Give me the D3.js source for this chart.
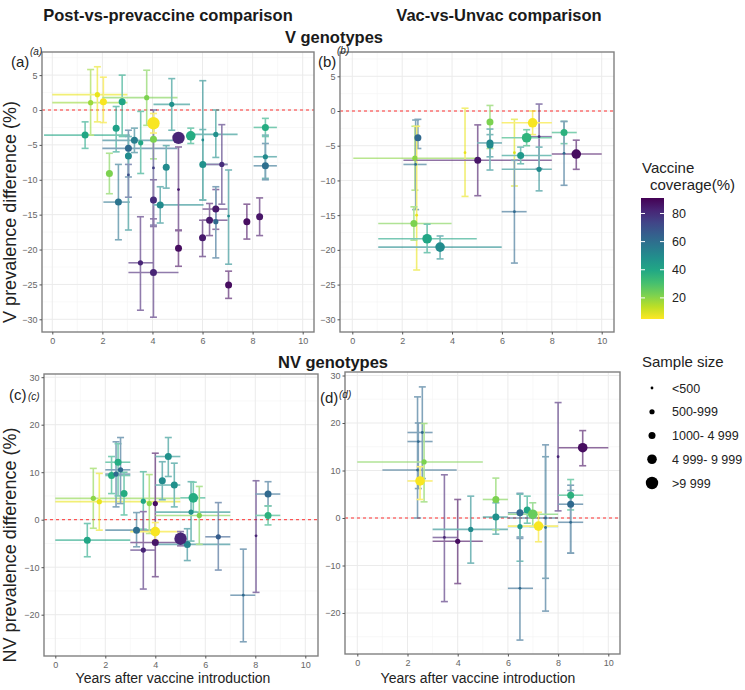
<!DOCTYPE html>
<html>
<head>
<meta charset="utf-8">
<script src="https://cdn.jsdelivr.net/npm/d3@7"></script>
<style>
  body { margin: 0; background: #fff; }
  svg { display: block; font-family: "Liberation Sans", Arial, sans-serif; }
</style>
</head>
<body>
<div id="container"></div>
<script>
// rows: [years, diff, diffLow, diffHigh, yearsLow, yearsHigh, coverage %, size class 0-4]
const postV = [
  [1.31, -3.6, -5.5, -1.7, -0.33, 3.1, 40, 2],
  [1.53, 1.05, -3.6, 5.8, 0.0, 3.0, 18, 1],
  [1.8, 2.2, -1.7, 6.2, 0.0, 3.0, 8, 1],
  [2.04, 1.2, -1.8, 4.7, null, null, 6, 2],
  [2.28, -9.1, -12.0, -6.2, null, null, 22, 2],
  [2.55, -2.6, -6.0, 0.5, null, null, 42, 2],
  [2.64, -13.2, -18.6, -7.8, 2.04, 3.1, 58, 2],
  [2.79, 1.2, -3.8, 5.0, null, null, 40, 2],
  [3.04, -5.5, -9.6, -2.9, 2.0, 5.0, 62, 2],
  [3.04, -6.6, -17.2, -3.8, null, null, 50, 2],
  [3.04, -9.3, -12.5, -7.8, null, null, 70, 0],
  [3.28, -4.35, -6.1, -2.6, 2.0, 5.0, 55, 2],
  [3.53, -4.7, -9.1, -0.2, null, null, 40, 1],
  [3.52, -21.9, -28.7, -15.3, 3.04, 4.04, 82, 1],
  [3.77, 1.77, -2.2, 5.7, 2.0, 5.0, 22, 1],
  [4.04, -4.2, -7.0, -1.5, null, null, 22, 2],
  [4.04, -8.3, -16.5, 0.0, null, null, 75, 0],
  [4.04, -12.9, -16.7, -10.0, null, null, 80, 2],
  [4.04, -23.3, -29.7, -15.6, 3.04, 5.04, 82, 2],
  [4.31, -13.6, -16.2, -11.0, 4.04, 6.04, 50, 2],
  [4.55, -8.2, -11.2, -5.1, null, null, 50, 2],
  [4.77, 0.81, -2.9, 4.5, 4.04, 5.5, 48, 1],
  [5.04, -11.4, -17.3, -5.3, null, null, 85, 0],
  [5.04, -19.8, -22.4, -17.2, null, null, 88, 2],
  [5.53, -3.7, -4.8, -2.6, null, null, 38, 3],
  [6.01, -4.3, -12.9, 4.2, null, null, 50, 0],
  [6.01, -7.8, -12.9, -2.8, 6.0, 7.0, 48, 2],
  [6.0, -18.3, -21.0, -15.8, null, null, 85, 2],
  [6.28, -15.8, -18.0, -13.4, 6.0, 7.0, 85, 2],
  [6.53, -3.5, -6.8, 0.0, 5.5, 7.4, 48, 1],
  [6.53, -14.2, -17.1, -11.4, 6.0, 7.0, 85, 2],
  [6.53, -16.0, -21.2, -11.0, null, null, 62, 1],
  [6.77, -7.8, -13.5, -2.1, 6.0, 7.0, 80, 1],
  [7.04, -15.2, -22.1, -8.6, null, null, 50, 0],
  [7.04, -25.1, -27.0, -23.1, null, null, 88, 2],
  [7.77, -16.0, -18.5, -13.5, null, null, 88, 2],
  [8.28, -15.3, -18.0, -12.6, null, null, 86, 2],
  [8.51, -2.5, -3.8, -1.2, 8.04, 8.97, 38, 2],
  [8.51, -6.7, -9.8, -3.6, 8.04, 8.97, 50, 1],
  [8.51, -8.0, -10.0, -4.8, 8.04, 8.97, 60, 2],
  [4.04, -1.9, -3.3, -0.5, null, null, 6, 4],
  [5.04, -4.0, -4.6, -3.4, null, null, 82, 4]
];

const vacV = [
  [2.63, -3.84, -5.4, -1.2, null, null, 62, 2],
  [2.51, -6.8, -11.4, -2.2, 0.04, 4.99, 20, 1],
  [2.54, -7.7, -14.2, -1.3, 2.05, 2.98, 60, 0],
  [2.58, -15.0, -22.9, -2.2, null, null, 8, 0],
  [2.47, -16.2, -18.6, -13.8, 1.04, 3.98, 22, 2],
  [3.0, -18.4, -20.4, -16.3, 1.04, 4.99, 40, 3],
  [3.52, -19.6, -21.3, -18.0, 1.04, 5.99, 50, 3],
  [4.52, -6.0, -12.3, 0.4, null, null, 8, 0],
  [5.03, -7.1, -12.2, -2.0, 2.05, 8.0, 86, 2],
  [5.52, -1.6, -5.4, 0.8, null, null, 22, 2],
  [5.52, -4.6, -6.6, -2.6, 5.0, 6.0, 52, 2],
  [5.52, -4.9, -8.5, -3.4, null, null, 50, 2],
  [6.5, -6.0, -10.8, -1.2, null, null, 10, 0],
  [6.5, -14.5, -21.9, -7.1, 5.99, 6.99, 62, 0],
  [6.75, -6.4, -7.6, -5.2, 5.99, 7.99, 45, 2],
  [7.49, -3.7, -8.3, 1.0, 6.99, 8.0, 80, 0],
  [7.49, -8.4, -11.5, -5.2, 5.99, 8.0, 50, 1],
  [8.49, -3.1, -4.7, -1.5, 8.0, 9.0, 36, 2],
  [8.49, -6.1, -10.7, -1.5, null, null, 62, 0],
  [6.99, -3.85, -5.0, -2.7, 5.99, 8.0, 35, 3],
  [7.23, -1.7, -3.4, 0.0, 5.99, 8.0, 6, 3],
  [8.98, -6.2, -8.4, -4.2, 8.0, 10.0, 88, 3]
];

const postNV = [
  [1.28, -4.3, -7.8, -0.8, 0.0, 3.0, 40, 2],
  [1.52, 4.5, -1.8, 10.8, 0.0, 5.0, 20, 1],
  [1.76, 3.8, -2.2, 9.75, 0.0, 5.0, 8, 1],
  [2.25, 9.3, 5.5, 13.3, 2.0, 3.0, 38, 2],
  [2.43, 9.6, 2.7, 16.4, 2.0, 3.0, 62, 1],
  [2.51, 12.1, 5.0, 16.0, 2.0, 3.0, 38, 2],
  [2.61, 10.5, 3.4, 17.3, 2.0, 3.0, 62, 1],
  [2.75, 5.5, 1.0, 10.0, null, null, 38, 2],
  [3.25, -2.2, -5.7, 1.5, 2.0, 4.0, 60, 2],
  [3.52, 3.9, -2.0, 10.1, null, null, 40, 1],
  [3.52, -6.4, -14.6, 1.7, 3.0, 4.0, 82, 1],
  [3.76, 3.4, -2.9, 9.5, null, null, 20, 1],
  [4.0, 3.4, -3.0, 14.0, null, null, 88, 1],
  [4.0, -4.8, -12.0, -2.2, 3.0, 5.0, 86, 2],
  [4.28, 8.2, 4.2, 12.2, null, null, 50, 2],
  [4.52, 13.3, 9.1, 17.3, 4.0, 5.0, 48, 2],
  [4.76, 7.3, 2.7, 11.9, 4.0, 5.0, 48, 2],
  [5.28, -5.2, -8.6, -1.9, 4.0, 7.0, 52, 2],
  [5.43, 1.6, -4.5, 8.0, 4.0, 7.0, 48, 1],
  [5.52, 4.6, 1.7, 7.9, 5.0, 6.0, 38, 3],
  [5.76, 0.9, -5.2, 7.0, 4.0, 7.0, 22, 1],
  [6.52, -3.6, -10.6, 3.6, 6.0, 7.0, 66, 1],
  [7.52, -15.9, -25.7, -6.2, 7.0, 8.0, 62, 0],
  [8.03, -3.4, -15.3, 8.2, null, null, 82, 0],
  [8.51, 5.4, 2.9, 8.0, 8.0, 9.0, 62, 2],
  [8.51, 0.9, -1.1, 2.9, 8.0, 9.0, 36, 2],
  [4.0, -2.5, -4.4, -0.6, 3.0, 5.0, 6, 3],
  [5.01, -4.0, -5.5, -2.5, null, null, 82, 4]
];

const vacNV = [
  [2.4, 10.1, 0.0, 25.5, 1.0, 3.96, 62, 0],
  [2.43, 16.1, 6.2, 20.0, 2.0, 3.0, 62, 0],
  [2.59, 18.0, 8.3, 27.6, 2.0, 3.0, 62, 0],
  [2.66, 11.8, 3.4, 19.9, 0.0, 5.0, 22, 1],
  [3.47, -4.1, -17.6, 9.1, 3.0, 4.0, 82, 0],
  [4.0, -4.9, -13.8, 3.9, 3.0, 5.0, 88, 1],
  [4.52, -2.4, -9.5, 4.6, 3.0, 6.0, 50, 1],
  [5.52, 3.9, -2.5, 8.4, 5.0, 6.0, 22, 2],
  [5.52, 0.2, -3.4, 3.2, 5.0, 6.0, 48, 2],
  [6.48, 1.1, -4.0, 5.2, 6.0, 7.0, 62, 2],
  [6.48, -1.8, -9.1, 5.0, 6.0, 8.0, 45, 1],
  [6.48, -14.8, -25.7, -4.3, 6.0, 7.0, 62, 0],
  [6.77, 1.7, -1.1, 4.6, null, null, 40, 2],
  [7.5, 0.0, -19.6, 15.4, 6.0, 8.0, 62, 0],
  [7.5, -2.0, -12.7, 12.9, null, null, 60, 0],
  [8.0, 12.9, 1.5, 24.3, null, null, 82, 0],
  [8.5, 4.8, 1.7, 8.1, 8.0, 9.0, 36, 2],
  [8.5, 2.9, -7.4, 6.9, 8.0, 9.0, 62, 2],
  [8.5, -0.9, -7.4, 5.8, 8.0, 9.0, 62, 0],
  [2.5, 7.8, 3.9, 10.8, 2.0, 3.0, 6, 3],
  [6.99, 0.8, -1.8, 3.2, 6.0, 8.0, 25, 3],
  [7.22, -1.7, -5.0, 1.2, 6.0, 8.0, 6, 3],
  [8.98, 14.8, 11.0, 18.4, 8.0, 10.0, 88, 3]
];

const xTicks = [0, 2, 4, 6, 8, 10];
const yTicksV = [-30, -25, -20, -15, -10, -5, 0, 5];
const yTicksNV = [-20, -10, 0, 10, 20, 30];
const coverageTicks = [20, 40, 60, 80];
const coverageExtent = [5, 91];
const sizeLabels = ["<500", "500-999", "1000- 4 999", "4 999- 9 999", ">9 999"];
const sizeRadius = [1.4, 2.6, 3.5, 4.8, 6.2];

const width = 745, height = 690;
const svg = d3.select("#container").append("svg")
  .attr("width", width).attr("height", height);

const color = d3.scaleSequential(d3.interpolateViridis).domain([coverageExtent[1], coverageExtent[0]]);
const radius = d3.scaleOrdinal().domain(d3.range(5)).range(sizeRadius);

const panels = [
  { data: postV, box: [42, 52, 314, 332], xr: [52.3, 302.7], yd: [0, -30], yr: [110, 319.3],
    ticks: yTicksV, step: 5, tag: "(a)", tagPos: [11, 67], sub: [30, 55] },
  { data: vacV, box: [340, 52, 614, 332], xr: [352.3, 601.7], yd: [0, -30], yr: [111, 319.3],
    ticks: yTicksV, step: 5, tag: "(b)", tagPos: [318, 67], sub: [337, 54] },
  { data: postNV, box: [44, 374, 318, 656], xr: [55.3, 305.3], yd: [0, -20], yr: [519.7, 614.7],
    ticks: yTicksNV, step: 10, tag: "(c)", tagPos: [9, 400], sub: [28, 400] },
  { data: vacNV, box: [345, 372, 620, 654], xr: [357.3, 608.3], yd: [0, -20], yr: [518, 613],
    ticks: yTicksNV, step: 10, tag: "(d)", tagPos: [320, 403], sub: [339, 398] }
];

panels.forEach(p => {
  const [l, t, r, b] = p.box;
  const x = d3.scaleLinear().domain([0, 10]).range(p.xr);
  const y = d3.scaleLinear().domain(p.yd).range(p.yr);
  const g = svg.append("g");
  const inX = v => x(v) > l && x(v) < r;
  const inY = v => y(v) > t && y(v) < b;

  g.append("rect").attr("x", l).attr("y", t).attr("width", r - l).attr("height", b - t).attr("fill", "#fff");

  // minor grid
  const minorX = d3.range(-1, 11, 2).filter(inX);
  const minorY = p.ticks.map(v => v - p.step / 2).concat([p.ticks[p.ticks.length - 1] + p.step / 2]).filter(inY);
  g.selectAll(null).data(minorX).join("line")
    .attr("x1", d => x(d)).attr("x2", d => x(d)).attr("y1", t).attr("y2", b)
    .attr("stroke", "#f4f4f4").attr("stroke-width", 0.6);
  g.selectAll(null).data(minorY).join("line")
    .attr("x1", l).attr("x2", r).attr("y1", d => y(d)).attr("y2", d => y(d))
    .attr("stroke", "#f4f4f4").attr("stroke-width", 0.6);
  // major grid
  g.selectAll(null).data(xTicks).join("line")
    .attr("x1", d => x(d)).attr("x2", d => x(d)).attr("y1", t).attr("y2", b)
    .attr("stroke", "#ebebeb").attr("stroke-width", 1);
  g.selectAll(null).data(p.ticks).join("line")
    .attr("x1", l).attr("x2", r).attr("y1", d => y(d)).attr("y2", d => y(d))
    .attr("stroke", "#ebebeb").attr("stroke-width", 1);

  // zero reference
  g.append("line").attr("x1", l).attr("x2", r).attr("y1", y(0)).attr("y2", y(0))
    .attr("stroke", "#ff3030").attr("stroke-width", 1).attr("stroke-dasharray", "3,3");

  // error bars
  const bars = g.append("g").attr("stroke-width", 1.6).attr("opacity", 0.6);
  p.data.forEach(d => {
    const c = color(d[6]);
    bars.append("line").attr("x1", x(d[0])).attr("x2", x(d[0]))
      .attr("y1", y(d[2])).attr("y2", y(d[3])).attr("stroke", c);
    [d[2], d[3]].forEach(v => {
      bars.append("line").attr("x1", x(d[0]) - 3.5).attr("x2", x(d[0]) + 3.5)
        .attr("y1", y(v)).attr("y2", y(v)).attr("stroke", c);
    });
    if (d[4] != null) {
      bars.append("line").attr("x1", Math.max(l, x(d[4]))).attr("x2", x(d[5]))
        .attr("y1", y(d[1])).attr("y2", y(d[1])).attr("stroke", c);
    }
  });

  // points
  g.selectAll(null).data(p.data).join("circle")
    .attr("cx", d => x(d[0])).attr("cy", d => y(d[1]))
    .attr("r", d => radius(d[7])).attr("fill", d => color(d[6]));

  // border
  g.append("rect").attr("x", l).attr("y", t).attr("width", r - l).attr("height", b - t)
    .attr("fill", "none").attr("stroke", "#808080").attr("stroke-width", 1.4);

  // axes
  const xa = d3.axisBottom(x).tickValues(xTicks).tickSize(2.5).tickPadding(3);
  g.append("g").attr("transform", `translate(0,${b})`).call(xa)
    .call(s => s.select(".domain").remove());
  const ya = d3.axisLeft(y).tickValues(p.ticks).tickSize(2.5).tickPadding(2);
  g.append("g").attr("transform", `translate(${l},0)`).call(ya)
    .call(s => s.select(".domain").remove());
  g.selectAll(".tick text").attr("fill", "#666").attr("font-size", 9)
    .attr("font-family", "Liberation Sans, Arial, sans-serif");
  g.selectAll(".tick line").attr("stroke", "#555");

  // panel tag
  g.append("text").attr("x", p.tagPos[0]).attr("y", p.tagPos[1])
    .attr("font-size", 15).attr("fill", "#222").text(p.tag);
  g.append("text").attr("x", p.sub[0]).attr("y", p.sub[1])
    .attr("font-size", 10).attr("font-style", "italic").attr("fill", "#222").text(p.tag);
});

// titles
const title = (txt, cx, cy, size) => svg.append("text").attr("x", cx).attr("y", cy)
  .attr("text-anchor", "middle").attr("font-weight", "bold").attr("font-size", size)
  .attr("fill", "#1a1a1a").text(txt);
title("Post-vs-prevaccine comparison", 168, 21, 16.5);
title("Vac-vs-Unvac comparison", 499, 21, 16.5);
title("V genotypes", 334, 43, 16.5);
title("NV genotypes", 333, 368, 16.5);

const yTitle = (txt, cy) => svg.append("text")
  .attr("transform", `translate(16,${cy}) rotate(-90)`)
  .attr("text-anchor", "middle").attr("font-size", 18).attr("fill", "#222").text(txt);
yTitle("V prevalence difference (%)", 212);
yTitle("NV prevalence difference (%)", 545);

[173, 478].forEach(cx => svg.append("text").attr("x", cx).attr("y", 683)
  .attr("text-anchor", "middle").attr("font-size", 14).attr("fill", "#222")
  .text("Years after vaccine introduction"));

// colour legend
const defs = svg.append("defs");
const grad = defs.append("linearGradient").attr("id", "vir")
  .attr("x1", 0).attr("x2", 0).attr("y1", 1).attr("y2", 0);
d3.range(0, 1.0001, 0.1).forEach(f => {
  const v = coverageExtent[0] + f * (coverageExtent[1] - coverageExtent[0]);
  grad.append("stop").attr("offset", f).attr("stop-color", color(v));
});
svg.append("text").attr("x", 642).attr("y", 173).attr("font-size", 15).attr("fill", "#222").text("Vaccine");
svg.append("text").attr("x", 650).attr("y", 190).attr("font-size", 15).attr("fill", "#222").text("coverage(%)");
const cy = d3.scaleLinear().domain(coverageExtent).range([319, 198]);
svg.append("rect").attr("x", 641).attr("y", cy(coverageExtent[1]))
  .attr("width", 23).attr("height", cy(coverageExtent[0]) - cy(coverageExtent[1]))
  .attr("fill", "url(#vir)");
coverageTicks.forEach(v => {
  svg.append("line").attr("x1", 641).attr("x2", 645).attr("y1", cy(v)).attr("y2", cy(v)).attr("stroke", "#fff");
  svg.append("line").attr("x1", 660).attr("x2", 664).attr("y1", cy(v)).attr("y2", cy(v)).attr("stroke", "#fff");
  svg.append("text").attr("x", 672).attr("y", cy(v) + 4.5).attr("font-size", 12.5).attr("fill", "#222").text(v);
});

// size legend
svg.append("text").attr("x", 642).attr("y", 367).attr("font-size", 15).attr("fill", "#222").text("Sample size");
const sy = d3.scalePoint().domain(sizeLabels).range([388, 483]);
sizeLabels.forEach((s, i) => {
  svg.append("circle").attr("cx", 652).attr("cy", sy(s)).attr("r", radius(i)).attr("fill", "#000");
  svg.append("text").attr("x", 672).attr("y", sy(s) + 4.5).attr("font-size", 12.5).attr("fill", "#222").text(s);
});
</script>
</body>
</html>
